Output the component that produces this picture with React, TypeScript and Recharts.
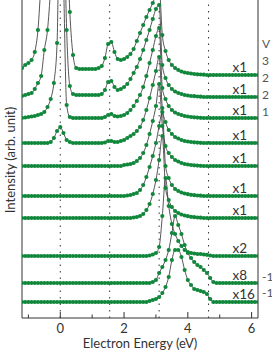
import React from 'react';
import { LineChart, Line, XAxis, YAxis, ReferenceLine, LabelList } from 'recharts';

const energies = [
  -1.2, -1.1, -1.0, -0.9, -0.8, -0.7, -0.6, -0.5, -0.4, -0.3,
  -0.2, -0.1, 0, 0.1, 0.2, 0.3, 0.4, 0.5, 0.6, 0.7,
  0.8, 0.9, 1.0, 1.1, 1.2, 1.3, 1.4, 1.5, 1.6, 1.7,
  1.8, 1.9, 2.0, 2.1, 2.2, 2.3, 2.4, 2.5, 2.6, 2.7,
  2.8, 2.9, 3.0, 3.1, 3.2, 3.3, 3.4, 3.5, 3.6, 3.7,
  3.8, 3.9, 4.0, 4.1, 4.2, 4.3, 4.4, 4.5, 4.6, 4.7,
  4.8, 4.9, 5.0, 5.1, 5.2, 5.3, 5.4, 5.5, 5.6, 5.7,
  5.8, 5.9, 6.0, 6.1, 6.2,
];

const spec1 = [
  7, 10, 12, 15, 23, 45, 95, 150, 200, 240,
  260, 270, 270, 240, 150, 63, 20, 7, 6, 6,
  6, 6, 6, 6, 7, 9, 17, 31, 33, 23,
  16, 15, 16, 18, 21, 26, 34, 42, 50, 58,
  65, 72, 80, 88, 40, 24, 15, 10, 7, 5,
  3.5, 2.5, 2, 1.5, 1, 0.7, 0.5, 0.3, 0, 0,
  0, 0, 0, 0, 0, 0, 0, 0, 0, 0,
  0, 0, 0, 0, 0,
];
const spec2 = [
  1, 2, 3, 4, 8, 14, 21, 47, 67, 110,
  170, 230, 250, 200, 67, 11, 3, 2, 2, 2,
  2, 2, 2, 2, 2, 3, 7, 15, 16, 10,
  7, 8, 10, 13, 18, 24, 30, 38, 47, 57,
  67, 78, 88, 92, 32, 19, 12, 8, 5.5, 4,
  3, 2, 1.5, 1, 0.8, 0.5, 0.3, 0, 0, 0,
  0, 0, 0, 0, 0, 0, 0, 0, 0, 0,
  0, 0, 0, 0, 0,
];
const spec3 = [
  0, 0.5, 1, 1.5, 2, 3, 4, 6, 11, 19,
  35, 75, 250, 140, 13, 1, 0, 0, 0, 0,
  0, 0, 0, 0, 0, 0, 1, 3, 4, 2,
  1.5, 2, 3, 5, 8, 12, 17, 23, 31, 42,
  55, 68, 82, 90, 30, 19, 12, 8, 5.5, 4,
  3, 2, 1.5, 1, 0.7, 0.4, 0.2, 0, 0, 0,
  0, 0, 0, 0, 0, 0, 0, 0, 0, 0,
  0, 0, 0, 0, 0,
];
const spec4 = [
  0, 0, 0, 0, 0, 0, 0, 0, 0, 1,
  5, 12, 16, 10, 3, 1, 0, 0, 0, 0,
  0, 0, 0, 0, 0, 0, 0.5, 2, 2, 1,
  1, 2, 3, 5, 7, 9, 12, 16, 23, 33,
  45, 58, 72, 86, 35, 21, 13, 9, 6, 4.5,
  3, 2, 1.5, 1, 0.7, 0.4, 0.2, 0, 0, 0,
  0, 0, 0, 0, 0, 0, 0, 0, 0, 0,
  0, 0, 0, 0, 0,
];
const spec5 = [
  0, 0, 0, 0, 0, 0, 0, 0, 0, 0,
  0, 0, 0, 0, 0, 0, 0, 0, 0, 0,
  0, 0, 0, 0, 0, 0, 0, 0, 0, 0,
  0, 0, 1, 1.5, 2, 3, 5, 8, 13, 21,
  32, 45, 60, 82, 40, 20, 13, 9, 6, 4.5,
  3, 2, 1.5, 1, 0.7, 0.4, 0.2, 0, 0, 0,
  0, 0, 0, 0, 0, 0, 0, 0, 0, 0,
  0, 0, 0, 0, 0,
];
const spec6 = [
  0, 0, 0, 0, 0, 0, 0, 0, 0, 0,
  0, 0, 0, 0, 0, 0, 0, 0, 0, 0,
  0, 0, 0, 0, 0, 0, 0, 0, 0, 0,
  0, 0, 0, 0.5, 1, 2, 3, 6, 11, 19,
  29, 40, 53, 70, 84, 30, 18, 11, 7, 5,
  3.5, 2.5, 1.8, 1.2, 0.8, 0.5, 0.3, 0, 0, 0,
  0, 0, 0, 0, 0, 0, 0, 0, 0, 0,
  0, 0, 0, 0, 0,
];
const spec7 = [
  0, 0, 0, 0, 0, 0, 0, 0, 0, 0,
  0, 0, 0, 0, 0, 0, 0, 0, 0, 0,
  0, 0, 0, 0, 0, 0, 0, 0, 0, 0,
  0, 0, 0, 0, 0, 0.5, 1, 2, 4, 8,
  14, 24, 38, 58, 82, 30, 18, 11, 7, 5,
  3.5, 2.5, 1.8, 1.2, 0.8, 0.5, 0.3, 0, 0, 0,
  0, 0, 0, 0, 0, 0, 0, 0, 0, 0,
  0, 0, 0, 0, 0,
];
const spec8 = [
  0, 0, 0, 0, 0, 0, 0, 0, 0, 0,
  0, 0, 0, 0, 0, 0, 0, 0, 0, 0,
  0, 0, 0, 0, 0, 0, 0, 0, 0, 0,
  0, 0, 0, 0, 0, 0, 0, 0, 0, 0,
  0.5, 1.5, 3, 9, 40, 78, 50, 32, 22, 15,
  10, 6, 4, 3, 2.5, 2, 2, 1.5, 1.2, 0.5,
  0, 0, 0, 0, 0, 0, 0, 0, 0, 0,
  0, 0, 0, 0, 0,
];
const spec9 = [
  0, 0, 0, 0, 0, 0, 0, 0, 0, 0,
  0, 0, 0, 0, 0, 0, 0, 0, 0, 0,
  0, 0, 0, 0, 0, 0, 0, 0, 0, 0,
  0, 0, 0, 0, 0, 0, 0, 0, 0, 0,
  0, 1, 3, 10, 16, 23, 33, 50, 67, 58,
  49, 38, 30, 25, 21, 18, 16, 13, 10, 5,
  1, 0, 0, 0, 0, 0, 0, 0, 0, 0,
  0, 0, 0, 0, 0,
];
const spec10 = [
  0, 0, 0, 0, 0, 0, 0, 0, 0, 0,
  0, 0, 0, 0, 0, 0, 0, 0, 0, 0,
  0, 0, 0, 0, 0, 0, 0, 0, 0, 0,
  0, 0, 0, 0, 0, 0, 0, 0, 0, 0,
  1, 2, 3, 5, 9, 15, 25, 42, 52, 52,
  45, 32, 22, 17, 13, 12, 11, 10, 8, 3,
  0, 0, 0, 0, 0, 0, 0, 0, 0, 0,
  0, 0, 0, 0, 0,
];

const spectra = [spec1, spec2, spec3, spec4, spec5, spec6, spec7, spec8, spec9, spec10];
const offsets = [243, 221, 200, 175, 152, 122, 100, 62, 35, 16];
const scaleLabels = ['x1', 'x1', 'x1', 'x1', 'x1', 'x1', 'x1', 'x2', 'x8', 'x16'];
const photonLines = [0, 1.55, 3.1, 4.65];
const xTicks = [-1, 0, 1, 2, 3, 4, 5, 6];
const sideTexts = ['V', '3', '2', '2', '1', '-1', '-1'];
const sideTextY = [48, 65, 82, 99, 116, 281, 297];

const GREEN = '#10873a';
const INK = '#333333';
const FONT = 'Lato, "Liberation Sans", sans-serif';
const LABEL_INDEX = 66;

const series = spectra.map((s, k) => energies.map((e, i) => ({ e, v: offsets[k] + s[i] })));

const Tick = (props: any) => {
  const { x, y, payload } = props;
  const v = payload.value as number;
  const major = Math.abs(v % 2) < 1e-6;
  return (
    <g>
      <line x1={x} x2={x} y1={y} y2={y - (major ? 6 : 3.5)} stroke={INK} strokeWidth={1} />
      {major && (
        <text x={x} y={y + 15} textAnchor="middle" fontSize={13} fill={INK} fontFamily={FONT}>
          {v}
        </text>
      )}
    </g>
  );
};

export default function App() {
  return (
    <div style={{ position: 'absolute', left: 0, top: 0, width: 272, height: 352, overflow: 'hidden', background: '#fff' }}>
      <LineChart width={272} height={352} margin={{ top: 0, right: 14, bottom: 0, left: 0 }}>
        <XAxis
          type="number"
          dataKey="e"
          domain={[-1.2, 6.2]}
          allowDataOverflow
          ticks={xTicks}
          tickSize={0}
          tickMargin={0}
          tick={<Tick />}
          height={34}
          stroke={INK}
          axisLine={{ stroke: INK, strokeWidth: 1 }}
          label={(p: any) => (
            <text x={140} y={348} textAnchor="middle" fontSize={13} fill={INK} fontFamily={FONT}>
              Electron Energy (eV)
            </text>
          )}
        />
        <YAxis
          type="number"
          domain={[0, 318]}
          allowDataOverflow
          width={22}
          tick={false}
          tickLine={false}
          axisLine={{ stroke: INK, strokeWidth: 1 }}
          label={(p: any) => (
            <text transform="translate(15,160) rotate(-90)" textAnchor="middle" fontSize={13} fill={INK} fontFamily={FONT}>
              Intensity (arb. unit)
            </text>
          )}
        />
        {photonLines.map((x) => (
          <ReferenceLine key={x} x={x} stroke={INK} strokeWidth={1} strokeDasharray="1.5 5" />
        ))}
        <ReferenceLine x={6.2} stroke={INK} strokeWidth={1} />
        {series.map((d, k) => (
          <Line
            key={k}
            data={d}
            dataKey="v"
            type="monotone"
            stroke="#2b2b2b"
            strokeWidth={0.8}
            dot={{ r: 2.1, fill: GREEN, stroke: 'none', strokeWidth: 0 }}
            activeDot={false}
            isAnimationActive={false}
          >
            <LabelList
              dataKey="v"
              content={(p: any) =>
                p.index === LABEL_INDEX ? (
                  <text x={p.x} y={p.y - 3} fontSize={13.5} fill={INK} fontFamily={FONT}>
                    {scaleLabels[k]}
                  </text>
                ) : null
              }
            />
          </Line>
        ))}
      </LineChart>
      {sideTexts.map((t, i) => (
        <span
          key={i}
          style={{ position: 'absolute', left: 262, top: sideTextY[i] - 11, fontSize: 12, lineHeight: '13px', color: '#555', fontFamily: FONT, whiteSpace: 'nowrap' }}
        >
          {t}
        </span>
      ))}
    </div>
  );
}
